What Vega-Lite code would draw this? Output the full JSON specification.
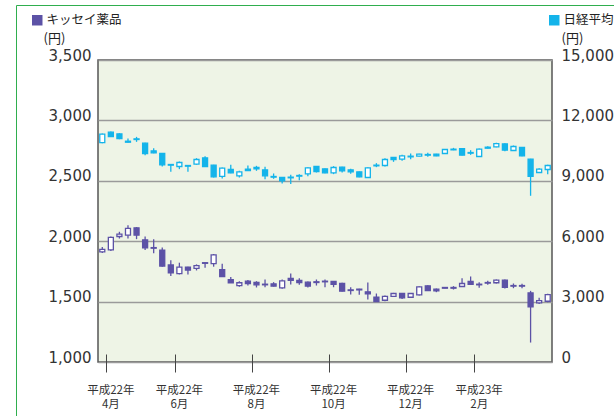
{
  "$schema": "https://vega.github.io/schema/vega-lite/v6.json",
  "autosize": {"type": "none"},
  "width": 454,
  "height": 302,
  "padding": {"left": 98, "top": 60, "right": 62, "bottom": 54},
  "background": "white",
  "config": {
    "view": {"stroke": "#555555", "strokeWidth": 1.5, "fill": "#eef4e6"},
    "font": "Noto Sans CJK JP"
  },
  "data": {"values": [
    {"week":"2010-03-29","series":"キッセイ薬品","open":1911,"high":1953,"low":1903,"close":1933},
    {"week":"2010-04-05","series":"キッセイ薬品","open":1928,"high":2039,"low":1919,"close":2031},
    {"week":"2010-04-12","series":"キッセイ薬品","open":2039,"high":2078,"low":2022,"close":2058},
    {"week":"2010-04-19","series":"キッセイ薬品","open":2050,"high":2133,"low":2022,"close":2106},
    {"week":"2010-04-26","series":"キッセイ薬品","open":2111,"high":2117,"low":2017,"close":2050},
    {"week":"2010-05-03","series":"キッセイ薬品","open":2011,"high":2039,"low":1928,"close":1944},
    {"week":"2010-05-10","series":"キッセイ薬品","open":1947,"high":2017,"low":1900,"close":1942},
    {"week":"2010-05-17","series":"キッセイ薬品","open":1925,"high":1947,"low":1789,"close":1794},
    {"week":"2010-05-24","series":"キッセイ薬品","open":1803,"high":1842,"low":1711,"close":1739},
    {"week":"2010-05-31","series":"キッセイ薬品","open":1731,"high":1822,"low":1725,"close":1786},
    {"week":"2010-06-07","series":"キッセイ薬品","open":1786,"high":1789,"low":1725,"close":1761},
    {"week":"2010-06-14","series":"キッセイ薬品","open":1775,"high":1808,"low":1758,"close":1797},
    {"week":"2010-06-21","series":"キッセイ薬品","open":1822,"high":1822,"low":1781,"close":1817},
    {"week":"2010-06-28","series":"キッセイ薬品","open":1814,"high":1894,"low":1789,"close":1886},
    {"week":"2010-07-05","series":"キッセイ薬品","open":1764,"high":1814,"low":1703,"close":1706},
    {"week":"2010-07-12","series":"キッセイ薬品","open":1681,"high":1703,"low":1653,"close":1656},
    {"week":"2010-07-19","series":"キッセイ薬品","open":1633,"high":1669,"low":1622,"close":1656},
    {"week":"2010-07-26","series":"キッセイ薬品","open":1669,"high":1678,"low":1633,"close":1650},
    {"week":"2010-08-02","series":"キッセイ薬品","open":1658,"high":1669,"low":1617,"close":1639},
    {"week":"2010-08-09","series":"キッセイ薬品","open":1644,"high":1683,"low":1619,"close":1639},
    {"week":"2010-08-16","series":"キッセイ薬品","open":1647,"high":1661,"low":1625,"close":1628},
    {"week":"2010-08-23","series":"キッセイ薬品","open":1614,"high":1683,"low":1606,"close":1672},
    {"week":"2010-08-30","series":"キッセイ薬品","open":1692,"high":1733,"low":1642,"close":1675},
    {"week":"2010-09-06","series":"キッセイ薬品","open":1675,"high":1694,"low":1639,"close":1658},
    {"week":"2010-09-13","series":"キッセイ薬品","open":1661,"high":1667,"low":1617,"close":1628},
    {"week":"2010-09-20","series":"キッセイ薬品","open":1664,"high":1683,"low":1633,"close":1658},
    {"week":"2010-09-27","series":"キッセイ薬品","open":1669,"high":1683,"low":1619,"close":1664},
    {"week":"2010-10-04","series":"キッセイ薬品","open":1667,"high":1669,"low":1619,"close":1642},
    {"week":"2010-10-11","series":"キッセイ薬品","open":1650,"high":1656,"low":1583,"close":1586},
    {"week":"2010-10-18","series":"キッセイ薬品","open":1597,"high":1619,"low":1558,"close":1592},
    {"week":"2010-10-25","series":"キッセイ薬品","open":1603,"high":1606,"low":1556,"close":1597},
    {"week":"2010-11-01","series":"キッセイ薬品","open":1581,"high":1658,"low":1517,"close":1564},
    {"week":"2010-11-08","series":"キッセイ薬品","open":1536,"high":1567,"low":1497,"close":1500},
    {"week":"2010-11-15","series":"キッセイ薬品","open":1511,"high":1550,"low":1503,"close":1544},
    {"week":"2010-11-22","series":"キッセイ薬品","open":1544,"high":1572,"low":1539,"close":1567},
    {"week":"2010-11-29","series":"キッセイ薬品","open":1567,"high":1572,"low":1522,"close":1531},
    {"week":"2010-12-06","series":"キッセイ薬品","open":1536,"high":1572,"low":1531,"close":1567},
    {"week":"2010-12-13","series":"キッセイ薬品","open":1556,"high":1628,"low":1550,"close":1622},
    {"week":"2010-12-20","series":"キッセイ薬品","open":1631,"high":1636,"low":1589,"close":1592},
    {"week":"2010-12-27","series":"キッセイ薬品","open":1603,"high":1608,"low":1578,"close":1589},
    {"week":"2011-01-03","series":"キッセイ薬品","open":1617,"high":1617,"low":1611,"close":1611},
    {"week":"2011-01-10","series":"キッセイ薬品","open":1617,"high":1628,"low":1600,"close":1611},
    {"week":"2011-01-17","series":"キッセイ薬品","open":1625,"high":1694,"low":1622,"close":1650},
    {"week":"2011-01-24","series":"キッセイ薬品","open":1667,"high":1708,"low":1639,"close":1642},
    {"week":"2011-01-31","series":"キッセイ薬品","open":1644,"high":1661,"low":1614,"close":1639},
    {"week":"2011-02-07","series":"キッセイ薬品","open":1658,"high":1672,"low":1639,"close":1653},
    {"week":"2011-02-14","series":"キッセイ薬品","open":1656,"high":1683,"low":1650,"close":1678},
    {"week":"2011-02-21","series":"キッセイ薬品","open":1678,"high":1683,"low":1608,"close":1617},
    {"week":"2011-02-28","series":"キッセイ薬品","open":1633,"high":1650,"low":1611,"close":1628},
    {"week":"2011-03-07","series":"キッセイ薬品","open":1633,"high":1647,"low":1611,"close":1628},
    {"week":"2011-03-14","series":"キッセイ薬品","open":1572,"high":1589,"low":1161,"close":1456},
    {"week":"2011-03-21","series":"キッセイ薬品","open":1489,"high":1531,"low":1481,"close":1508},
    {"week":"2011-03-28","series":"キッセイ薬品","open":1503,"high":1564,"low":1494,"close":1558},
    {"week":"2010-03-29","series":"日経平均","open":10901,"high":11347,"low":10868,"close":11314},
    {"week":"2010-04-05","series":"日経平均","open":11413,"high":11446,"low":11182,"close":11198},
    {"week":"2010-04-12","series":"日経平均","open":11331,"high":11364,"low":11066,"close":11099},
    {"week":"2010-04-19","series":"日経平均","open":10967,"high":11099,"low":10901,"close":10917},
    {"week":"2010-04-26","series":"日経平均","open":11083,"high":11182,"low":10934,"close":11050},
    {"week":"2010-05-03","series":"日経平均","open":10868,"high":10884,"low":10273,"close":10355},
    {"week":"2010-05-10","series":"日経平均","open":10488,"high":10620,"low":10372,"close":10389},
    {"week":"2010-05-17","series":"日経平均","open":10355,"high":10372,"low":9711,"close":9793},
    {"week":"2010-05-24","series":"日経平均","open":9810,"high":9827,"low":9446,"close":9777},
    {"week":"2010-05-31","series":"日経平均","open":9711,"high":9959,"low":9579,"close":9909},
    {"week":"2010-06-07","series":"日経平均","open":9760,"high":9777,"low":9446,"close":9727},
    {"week":"2010-06-14","series":"日経平均","open":9827,"high":10124,"low":9793,"close":10058},
    {"week":"2010-06-21","series":"日経平均","open":10141,"high":10223,"low":9694,"close":9711},
    {"week":"2010-06-28","series":"日経平均","open":9777,"high":9793,"low":9165,"close":9198},
    {"week":"2010-07-05","series":"日経平均","open":9215,"high":9661,"low":9116,"close":9628},
    {"week":"2010-07-12","series":"日経平均","open":9562,"high":9793,"low":9380,"close":9397},
    {"week":"2010-07-19","series":"日経平均","open":9248,"high":9496,"low":9165,"close":9446},
    {"week":"2010-07-26","series":"日経平均","open":9579,"high":9760,"low":9496,"close":9512},
    {"week":"2010-08-02","series":"日経平均","open":9661,"high":9744,"low":9496,"close":9595},
    {"week":"2010-08-09","series":"日経平均","open":9545,"high":9694,"low":9083,"close":9248},
    {"week":"2010-08-16","series":"日経平均","open":9215,"high":9364,"low":9099,"close":9182},
    {"week":"2010-08-23","series":"日経平均","open":9165,"high":9182,"low":8868,"close":9000},
    {"week":"2010-08-30","series":"日経平均","open":9182,"high":9298,"low":8835,"close":9149},
    {"week":"2010-09-06","series":"日経平均","open":9231,"high":9331,"low":9033,"close":9264},
    {"week":"2010-09-13","series":"日経平均","open":9347,"high":9678,"low":9231,"close":9645},
    {"week":"2010-09-20","series":"日経平均","open":9711,"high":9727,"low":9413,"close":9463},
    {"week":"2010-09-27","series":"日経平均","open":9595,"high":9612,"low":9380,"close":9397},
    {"week":"2010-10-04","series":"日経平均","open":9397,"high":9727,"low":9331,"close":9661},
    {"week":"2010-10-11","series":"日経平均","open":9678,"high":9694,"low":9413,"close":9496},
    {"week":"2010-10-18","series":"日経平均","open":9545,"high":9595,"low":9347,"close":9446},
    {"week":"2010-10-25","series":"日経平均","open":9446,"high":9463,"low":9182,"close":9198},
    {"week":"2010-11-01","series":"日経平均","open":9165,"high":9678,"low":9149,"close":9645},
    {"week":"2010-11-08","series":"日経平均","open":9744,"high":9876,"low":9678,"close":9777},
    {"week":"2010-11-15","series":"日経平均","open":9760,"high":10124,"low":9711,"close":10058},
    {"week":"2010-11-22","series":"日経平均","open":10157,"high":10174,"low":9942,"close":10058},
    {"week":"2010-11-29","series":"日経平均","open":10074,"high":10289,"low":9992,"close":10240},
    {"week":"2010-12-06","series":"日経平均","open":10190,"high":10355,"low":10074,"close":10223},
    {"week":"2010-12-13","series":"日経平均","open":10223,"high":10339,"low":10207,"close":10322},
    {"week":"2010-12-20","series":"日経平均","open":10273,"high":10389,"low":10190,"close":10306},
    {"week":"2010-12-27","series":"日経平均","open":10322,"high":10339,"low":10223,"close":10240},
    {"week":"2011-01-03","series":"日経平均","open":10355,"high":10570,"low":10339,"close":10554},
    {"week":"2011-01-10","series":"日経平均","open":10570,"high":10636,"low":10521,"close":10537},
    {"week":"2011-01-17","series":"日経平均","open":10603,"high":10620,"low":10256,"close":10273},
    {"week":"2011-01-24","series":"日経平均","open":10405,"high":10521,"low":10289,"close":10372},
    {"week":"2011-01-31","series":"日経平均","open":10207,"high":10603,"low":10190,"close":10570},
    {"week":"2011-02-07","series":"日経平均","open":10670,"high":10719,"low":10603,"close":10620},
    {"week":"2011-02-14","series":"日経平均","open":10686,"high":10884,"low":10670,"close":10851},
    {"week":"2011-02-21","series":"日経平均","open":10835,"high":10868,"low":10471,"close":10521},
    {"week":"2011-02-28","series":"日経平均","open":10504,"high":10752,"low":10488,"close":10703},
    {"week":"2011-03-07","series":"日経平均","open":10653,"high":10670,"low":10223,"close":10240},
    {"week":"2011-03-14","series":"日経平均","open":10074,"high":10091,"low":8256,"close":9215},
    {"week":"2011-03-21","series":"日経平均","open":9413,"high":9628,"low":9397,"close":9579},
    {"week":"2011-03-28","series":"日経平均","open":9562,"high":9793,"low":9331,"close":9760}
  ]},
  "encoding": {
    "x": {
      "field": "week",
      "type": "ordinal",
      "sort": "ascending",
      "scale": {"paddingInner": 0, "paddingOuter": 0},
      "axis": {
        "title": null,
        "values": ["2010-04-05", "2010-05-31", "2010-08-02", "2010-10-04", "2010-12-06", "2011-01-31"],
        "bandPosition": 0,
        "domain": false,
        "grid": false,
        "offset": -8,
        "tickSize": 18,
        "tickColor": "#444444",
        "tickWidth": 1,
        "labelAngle": 0,
        "labelPadding": 12,
        "labelFont": "Noto Sans CJK JP",
        "labelFontSize": 11.5,
        "labelLineHeight": 14,
        "labelColor": "#333333",
        "labelExpr": "datum.value === '2010-04-05' ? ['平成22年','4月'] : datum.value === '2010-05-31' ? ['平成22年','6月'] : datum.value === '2010-08-02' ? ['平成22年','8月'] : datum.value === '2010-10-04' ? ['平成22年','10月'] : datum.value === '2010-12-06' ? ['平成22年','12月'] : ['平成23年','2月']"
      }
    }
  },
  "layer": [
    {
      "transform": [{"filter": "datum.series === 'キッセイ薬品'"}],
      "layer": [
        {
          "mark": {"type": "rule", "color": "#5c52a6", "strokeWidth": 1.3},
          "encoding": {
            "y": {
              "field": "low", "type": "quantitative",
              "scale": {"domain": [1000, 3500], "nice": false, "zero": false},
              "axis": {
                "orient": "left",
                "values": [1000, 1500, 2000, 2500, 3000, 3500],
                "format": ",.0f",
                "domain": false,
                "ticks": false,
                "grid": true,
                "gridColor": "#9a9a9a",
                "gridWidth": 1.5,
                "labelPadding": 7,
                "labelOffset": -5,
                "labelFont": "DejaVu Sans",
                "labelFontSize": 15,
                "labelColor": "#333333",
                "title": "(円)",
                "titleAngle": 0,
                "titleAlign": "left",
                "titleBaseline": "alphabetic",
                "titleX": -55,
                "titleY": -18,
                "titleFont": "Noto Sans CJK JP",
                "titleFontSize": 13,
                "titleFontWeight": "normal",
                "titleColor": "#222222"
              }
            },
            "y2": {"field": "high"},
            "opacity": {
              "field": "high", "type": "quantitative",
              "scale": {"range": [1, 1]},
              "legend": {
                "orient": "none", "legendX": -82, "legendY": -55,
                "title": null, "padding": 600,
                "strokeColor": "#2fae4e",
                "labelExpr": "''",
                "gradientLength": 10,
                "gradientThickness": 4
              }
            }
          }
        },
        {
          "mark": {"type": "bar", "width": 5, "stroke": "#5c52a6", "strokeWidth": 1.3},
          "encoding": {
            "y": {
              "field": "open", "type": "quantitative",
              "scale": {"domain": [1000, 3500], "nice": false, "zero": false},
              "axis": {
                "orient": "left",
                "values": [1000, 1500, 2000, 2500, 3000, 3500],
                "format": ",.0f",
                "domain": false,
                "ticks": false,
                "grid": true,
                "gridColor": "#9a9a9a",
                "gridWidth": 1.5,
                "labelPadding": 7,
                "labelOffset": -5,
                "labelFont": "DejaVu Sans",
                "labelFontSize": 15,
                "labelColor": "#333333",
                "title": "(円)",
                "titleAngle": 0,
                "titleAlign": "left",
                "titleBaseline": "alphabetic",
                "titleX": -55,
                "titleY": -18,
                "titleFont": "Noto Sans CJK JP",
                "titleFontSize": 13,
                "titleFontWeight": "normal",
                "titleColor": "#222222"
              }
            },
            "y2": {"field": "close"},
            "fill": {
              "condition": {"test": "datum.close > datum.open", "value": "white"},
              "field": "series", "type": "nominal",
              "scale": {"range": ["#5c52a6"]},
              "legend": {
                "orient": "none", "legendX": -67, "legendY": -46,
                "title": null, "symbolType": "square", "symbolSize": 110,
                "symbolStrokeWidth": 0, "labelFont": "Noto Sans CJK JP",
                "labelFontSize": 12.5, "labelColor": "#222222", "labelOffset": 3, "padding": 0
              }
            }
          }
        }
      ]
    },
    {
      "transform": [{"filter": "datum.series === '日経平均'"}],
      "layer": [
        {
          "mark": {"type": "rule", "color": "#14b4ea", "strokeWidth": 1.3},
          "encoding": {
            "y": {
              "field": "low", "type": "quantitative",
              "scale": {"domain": [0, 15000], "nice": false},
              "axis": {
                "orient": "right",
                "values": [0, 3000, 6000, 9000, 12000, 15000],
                "format": ",.0f",
                "domain": false,
                "ticks": false,
                "grid": false,
                "labelPadding": 9,
                "labelOffset": -5,
                "labelFont": "DejaVu Sans",
                "labelFontSize": 15,
                "labelColor": "#333333",
                "title": "(円)",
                "titleAngle": 0,
                "titleAlign": "left",
                "titleBaseline": "alphabetic",
                "titleX": 9,
                "titleY": -18,
                "titleFont": "Noto Sans CJK JP",
                "titleFontSize": 13,
                "titleFontWeight": "normal",
                "titleColor": "#222222"
              }
            },
            "y2": {"field": "high"}
          }
        },
        {
          "mark": {"type": "bar", "width": 5, "stroke": "#14b4ea", "strokeWidth": 1.3},
          "encoding": {
            "y": {
              "field": "open", "type": "quantitative",
              "scale": {"domain": [0, 15000], "nice": false},
              "axis": {
                "orient": "right",
                "values": [0, 3000, 6000, 9000, 12000, 15000],
                "format": ",.0f",
                "domain": false,
                "ticks": false,
                "grid": false,
                "labelPadding": 9,
                "labelOffset": -5,
                "labelFont": "DejaVu Sans",
                "labelFontSize": 15,
                "labelColor": "#333333",
                "title": "(円)",
                "titleAngle": 0,
                "titleAlign": "left",
                "titleBaseline": "alphabetic",
                "titleX": 9,
                "titleY": -18,
                "titleFont": "Noto Sans CJK JP",
                "titleFontSize": 13,
                "titleFontWeight": "normal",
                "titleColor": "#222222"
              }
            },
            "y2": {"field": "close"},
            "fill": {
              "condition": {"test": "datum.close > datum.open", "value": "white"},
              "field": "series", "type": "nominal",
              "scale": {"range": ["#14b4ea"]},
              "legend": {
                "orient": "none", "legendX": 450, "legendY": -46,
                "title": null, "symbolType": "square", "symbolSize": 110,
                "symbolStrokeWidth": 0, "labelFont": "Noto Sans CJK JP",
                "labelFontSize": 12.5, "labelColor": "#222222", "labelOffset": 3, "padding": 0
              }
            }
          }
        }
      ]
    }
  ],
  "resolve": {"scale": {"y": "independent", "fill": "independent", "opacity": "independent"}}
}
